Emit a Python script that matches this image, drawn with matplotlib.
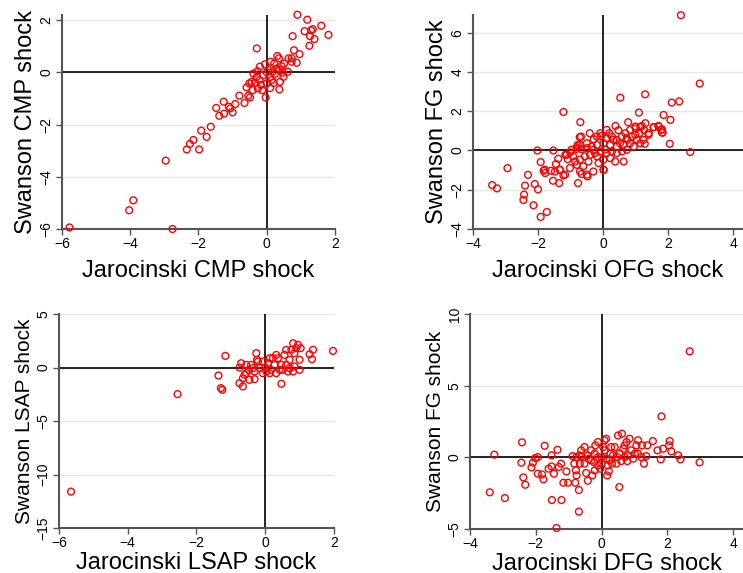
import numpy as np
import matplotlib.pyplot as plt

plt.rcParams['font.family'] = ['Liberation Sans', 'DejaVu Sans']

# panel 1: CMP
cmp_jar = [-5.78, -2.76, -4.03, -3.91, -2.96, -2.34, -2.25, -2.15, -1.98, -1.92,
           -1.76, -1.64, -1.48, -1.39, -1.25, -1.26, -1.11, -1.07, -1.0, -0.92,
           -0.80, -0.65, -0.54, -0.49, -0.51, -0.41, -0.29, -0.03, 0.37, 0.10,
           -0.34, -0.26, -0.21, -0.39, -0.27, -0.20, -0.05, 0.0, 0.10, 0.18,
           0.22, 0.29, 0.31, 0.36, 0.37, 0.47, 0.51, 0.62, 0.64, 0.73,
           0.73, 0.80, 0.88, 0.96, 0.76, 0.90, 1.19, 1.11, 1.30, 1.35,
           1.27, 1.40, 1.25, 1.60, 1.81, 0.05, 0.15, 0.24, -0.10, -0.17,
           -0.13, 0.12, 0.44, 0.20, 0.39, 0.49, -0.29, 0.0, -0.44, -0.59]
cmp_swa = [-5.94, -6.0, -5.28, -4.90, -3.38, -2.95, -2.74, -2.59, -2.95, -2.23,
           -2.47, -2.08, -1.36, -1.66, -1.58, -1.12, -1.31, -1.38, -1.53, -1.21,
           -0.89, -1.17, -0.89, -0.96, -0.42, -0.68, 0.92, -0.96, -0.65, -0.60,
           -0.40, -0.61, -0.29, -0.04, 0.05, 0.22, 0.31, 0.0, -0.17, 0.03,
           0.34, 0.15, 0.63, 0.54, 0.09, -0.01, 0.34, 0.03, 0.54, 0.54,
           0.41, 0.85, 0.37, 0.70, 1.39, 2.21, 2.02, 1.58, 1.61, 1.66,
           1.39, 1.28, 1.02, 1.79, 1.44, 0.09, -0.29, -0.06, -0.10, -0.48,
           -0.68, 0.41, 0.24, -0.40, -0.36, -0.17, -0.17, -0.42, -0.36, -0.57]

# panel 2: OFG vs FG
ofg_jar = [2.39, 2.97, 0.53, 1.29, 2.34, 2.11, -1.22, 1.10, -0.70, 0.77,
           1.86, 2.07, 1.70, 1.56, 1.81, 1.81, 2.05, 2.68, 1.28, 1.40,
           1.19, 1.00, 0.38, 0.47, -0.41, -0.68, -0.72, -0.06, -0.29, 0.02,
           -0.48, -0.77, -0.66, -0.78, -0.81, -1.01, -1.16, -1.09, -1.53, -2.02,
           -1.92, -1.45, -1.38, -1.83, -1.78, -1.60, -1.54, -1.35, -1.33, -1.22,
           -2.94, -2.31, -2.40, -2.10, -2.00, -2.43, -2.45, -2.14, -1.73, -1.92,
           -3.41, -3.26, 0.19, 0.27, 0.11, 0.42, 0.58, 0.68, 0.75, 0.88,
           0.99, 1.11, 1.14, 1.26, 1.40, 1.55, 1.71, 1.78, 1.83, 0.83,
           0.63, 0.42, 0.22, 0.01, -0.19, -0.35, -0.50, -0.66, -0.81, -0.97,
           -1.12, -0.92, -0.71, -0.56, -0.40, -0.25, -0.09, 0.06, 0.27, 0.42,
           0.58, 0.73, 0.94, 1.14, 1.24, 1.04, -0.19, 0.01, 0.22, 0.63,
           -0.61, -0.81, -1.02, -1.33, -1.17, -1.48, -1.79, -0.30, 0.01, -0.50,
           -0.71, -0.86, -0.45, -0.14, 0.37, 0.11, -0.30, 0.52, 0.32, 0.73,
           0.83, 0.99, 1.30, 0.11, -0.09, -0.19, -0.50, -0.71]
fg_swa1 = [6.89, 3.41, 2.69, 2.86, 2.50, 2.44, 1.96, 1.93, 1.44, 1.44,
           1.81, 1.56, 1.25, 1.18, 1.08, 0.91, 0.34, -0.08, 0.34, 0.80,
           1.25, 1.13, 1.25, 1.03, 0.88, 0.71, 0.68, 0.74, 0.57, -0.98,
           -1.32, -1.66, -1.20, 0.28, 0.08, -0.10, -0.22, -0.44, 0.0, 0.0,
           -0.59, -0.69, -0.42, -1.03, -1.15, -1.03, -1.54, -1.66, -0.98, -1.27,
           -0.90, -1.24, -1.79, -1.71, -1.98, -2.25, -2.52, -2.79, -3.13, -3.38,
           -1.76, -1.93, 0.88, 0.71, 0.63, 0.54, 0.71, 0.88, 0.54, 0.71,
           0.80, 0.88, 1.19, 1.05, 0.88, 1.19, 1.22, 1.05, 0.91, 0.37,
           0.29, 0.20, 0.29, 0.37, 0.29, 0.20, 0.12, 0.07, 0.17, 0.04,
           -0.22, -0.30, -0.47, -0.30, -0.22, -0.13, -0.05, 0.04, -0.05, -0.13,
           -0.05, 0.04, 0.20, 0.37, 0.54, 0.54, -0.30, -0.47, -0.39, -0.56,
           -0.81, -0.73, -0.89, -0.98, -1.23, -1.07, -0.98, -1.07, -0.98, -1.23,
           -1.07, -0.56, -0.56, -0.64, -0.56, -0.13, 0.04, 0.37, 0.54, 0.63,
           1.05, 1.22, 1.39, 1.05, 0.88, 0.71, 0.37, 0.29]

# panel 3: LSAP
lsap_jar = [-5.65, -2.55, -1.36, -1.16, -1.29, -1.25, -0.75, -0.70, -0.75, -0.65,
            -0.65, -0.55, -0.48, -0.41, -0.31, -0.26, -0.24, -0.16, -0.07, 0.0,
            0.08, 0.17, 0.22, 0.32, 0.37, 0.47, 0.51, 0.56, 0.61, 0.71,
            0.76, 0.81, 0.85, 0.90, 0.95, 1.00, 1.00, 1.03, 1.29, 1.39,
            1.36, 1.97, 0.85, 0.71, 0.47, 0.61, -0.36, -0.55, 0.27, 0.13,
            -0.07, -0.21, -0.31, 0.32, 0.13, 0.42, 0.81, 0.66, -0.46, -0.60, 0.03]
lsap_swa = [-11.6, -2.49, -0.75, 1.09, -1.93, -2.08, 0.0, 0.40, -1.46, -1.77,
            -1.00, -0.53, -0.22, 0.25, -1.09, 1.34, 0.72, -0.06, -0.53, 0.0,
            0.40, -0.22, 0.87, 1.18, 0.87, -1.52, -0.22, 1.18, 1.65, 0.72,
            1.65, 2.27, 1.34, 1.81, 2.12, 0.72, -0.22, 1.81, 1.24, 1.65,
            0.78, 1.55, 0.09, -0.06, 0.25, 0.25, -0.06, 0.25, 0.25, 0.87,
            0.56, 0.56, -0.37, -0.53, -0.53, -0.22, -0.37, -0.37, -1.15, -0.68, -0.37]

# panel 4: DFG vs FG
dfg_jar = [2.68, 1.82, -3.40, -2.94, -3.26, -2.42, -2.44, -2.38, -2.32, -2.13,
           -2.09, -2.02, -1.94, -1.94, -1.81, -1.77, -1.73, -1.61, -1.52, -1.52,
           -1.51, -1.45, -1.37, -1.34, -1.30, -1.23, -1.22, -1.16, -1.07, -1.02,
           -0.88, -0.83, -0.80, -0.78, -0.76, -0.69, -0.69, -0.66, -0.62, -0.60,
           -0.52, -0.47, -0.42, -0.38, -0.32, -0.28, -0.23, -0.19, -0.11, -0.04,
           0.0, 0.05, 0.09, 0.14, 0.17, 0.22, 0.27, 0.32, 0.40, 0.48,
           0.50, 0.54, 0.62, 0.66, 0.70, 0.76, 0.78, 0.85, 0.90, 0.96,
           1.06, 1.11, 1.21, 1.23, 1.29, 1.36, 1.39, 1.56, 1.70, 1.80,
           1.87, 2.05, 2.07, 2.12, 2.33, 2.40, 2.98, 0.14, 0.24, 0.35,
           0.45, 0.55, 0.60, -0.01, -0.11, -0.21, -0.32, -0.42, -0.52, 0.09,
           0.29, 0.70, 1.01, 0.80, 1.11, -0.21, -0.11, 0.19, -0.77, -0.67]
fg_swa2 = [7.40, 2.86, -2.44, -2.84, 0.19, 1.05, -0.37, -1.40, -1.91, -0.70,
           -0.37, -0.05, 0.02, -1.14, -1.19, -1.53, 0.81, -0.79, 0.14, -0.63,
           -2.98, -1.14, -4.93, 0.53, -0.67, -0.44, -2.98, -1.77, -0.98, -1.77,
           0.09, -0.44, -1.77, -0.91, -1.26, -2.28, -3.79, -0.44, 0.49, 0.09,
           0.72, -1.09, -1.63, -0.09, 0.49, -1.26, -0.33, 0.84, 1.07, -0.79,
           0.0, 0.72, 1.19, 1.30, -1.26, -0.98, 0.26, -0.44, 0.72, 0.02,
           1.53, -2.07, 1.65, 0.60, 0.02, 1.07, -0.26, 1.30, 0.49, -0.09,
           0.84, 1.19, 0.02, 0.84, -0.44, 0.09, 0.84, 1.14, 0.49, -0.14,
           0.60, 0.84, 1.14, 0.42, 0.14, -0.14, -0.35, -0.09, -0.21, 0.14,
           -0.44, 0.26, -0.26, -0.44, 0.02, 0.26, -0.21, 0.14, -0.44, 0.49,
           0.72, 0.84, 0.26, 0.14, 0.26, -0.91, -0.56, -0.56, 0.02, 0.14]

fig = plt.figure(figsize=(7.43, 5.73), dpi=100)

panels = [
    # x, y, xlabel, ylabel, rect, xlim, ylim, yticks, xticks, ylabel size, xlabel pad
    (cmp_jar, cmp_swa, "Jarocinski CMP shock", "Swanson CMP shock",
     [0.0834, 0.6003, 0.3674, 0.3735], (-6, 2), (-6, 2.2), [-6, -4, -2, 0, 2], [-6, -4, -2, 0, 2], 17, 6),
    (ofg_jar, fg_swa1, "Jarocinski OFG shock", "Swanson FG shock",
     [0.6366, 0.6003, 0.3634, 0.3735], (-4, 4.3), (-4, 6.9), [-4, -2, 0, 2, 4, 6], [-4, -2, 0, 2, 4], 17, 6),
    (lsap_jar, lsap_swa, "Jarocinski LSAP shock", "Swanson LSAP shock",
     [0.0794, 0.0785, 0.3701, 0.3735], (-6, 2), (-15, 5), [-15, -10, -5, 0, 5], [-6, -4, -2, 0, 2], 15, 1),
    (dfg_jar, fg_swa2, "Jarocinski DFG shock", "Swanson FG shock",
     [0.6326, 0.0768, 0.3674, 0.375], (-4, 4.3), (-5, 10), [-5, 0, 5, 10], [-4, -2, 0, 2, 4], 15, 1),
]

for xs, ys, xl, yl, rect, xlim, ylim, yt, xt, yls, xpad in panels:
    ax = fig.add_axes(rect)
    ax.set_xlim(xlim)
    ax.set_ylim(ylim)
    ax.set_xticks(xt)
    ax.set_yticks(yt)
    # light horizontal grid, black zero lines
    ax.yaxis.grid(True, color="#e6e6e6", lw=1)
    ax.set_axisbelow(True)
    ax.axhline(0, color="black", lw=1.2, zorder=1)
    ax.axvline(0, color="black", lw=1.2, zorder=1)
    ax.scatter(xs, ys, s=24, facecolors="none", edgecolors="red", linewidths=1,
               zorder=3, clip_on=False)
    for s in ["top", "right"]:
        ax.spines[s].set_visible(False)
    for s in ["left", "bottom"]:
        ax.spines[s].set_color("#555555")
        ax.spines[s].set_linewidth(1.5)
    ax.tick_params(length=4, width=1, color="#555555", labelsize=10, pad=2)
    plt.setp(ax.get_yticklabels(), rotation=90, va="center")
    ax.set_xlabel(xl, fontsize=17, labelpad=xpad)
    ax.set_ylabel(yl, fontsize=yls, labelpad=2)

fig.savefig("out.png", dpi=100)
